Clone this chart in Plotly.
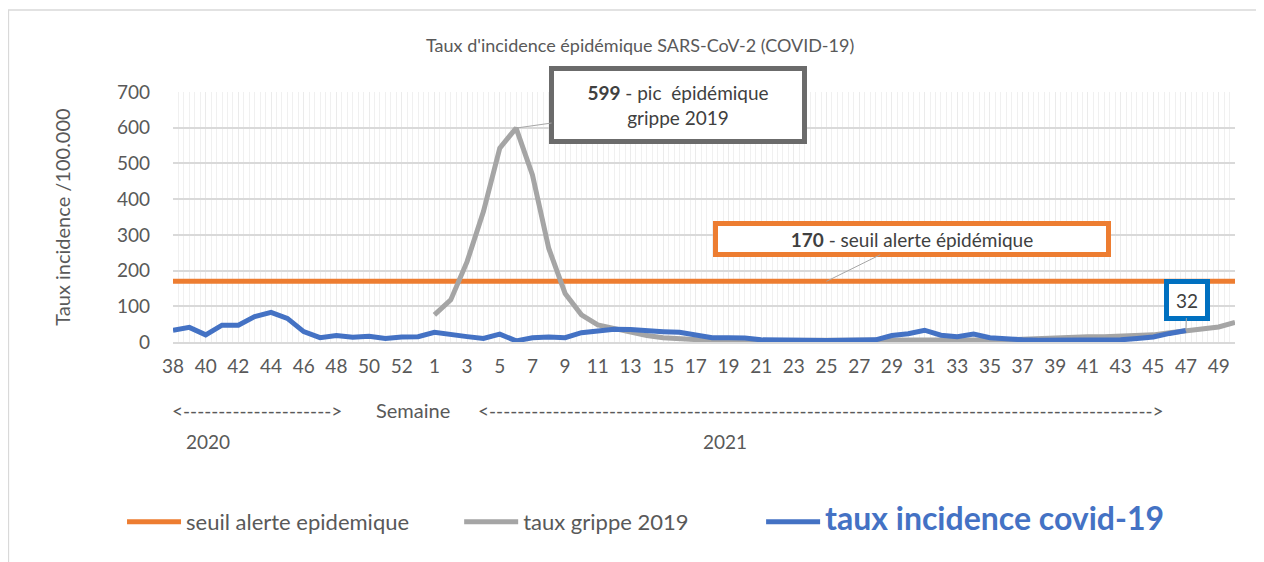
import plotly.graph_objects as go

# ---- data ----
weeks = [str(w) for w in range(38, 54)] + [str(w) for w in range(1, 51)]
seuil = [170] * len(weeks)
covid_2020 = [33, 41, 20, 47, 47, 71, 83, 66, 29, 12, 18, 13, 16, 10, 14, 15]
covid_2021 = [27, 20, 15, 10, 22, 3, 12, 14, 12, 26, 30, 36, 35, 31, 29, 27, 20, 12,
              12, 11, 6, 5, 4, 4, 4, 5, 6, 6, 18, 23, 33, 19, 15, 22, 12, 8, 6, 5,
              5, 4, 5, 5, 6, 10, 14, 24, 32]
grippe_2021 = [76, 118, 225, 365, 543, 599, 468, 262, 136, 76, 48, 38, 30, 18, 12, 9,
               6, 4, 4, 4, 3, 3, 3, 3, 3, 3, 3, 3, 4, 4, 4, 4, 4, 5, 5, 6, 8, 10, 13,
               15, 15, 15, 16, 17, 20, 26, 32, 37, 42, 55]

covid = covid_2020 + covid_2021 + [None] * (len(weeks) - len(covid_2020) - len(covid_2021))
grippe = [None] * len(covid_2020) + grippe_2021
idx = list(range(len(weeks)))
tickvals = idx[::2]
ticktext = [weeks[i] for i in tickvals]

FONT = "Lato"
TXT = "#595959"
NB = "&nbsp;"

fig = go.Figure()
fig.add_trace(go.Scatter(x=idx, y=seuil, mode="lines",
                         name="seuil alerte epidemique" + NB * 8,
                         line=dict(color="#ED7D31", width=5)))
fig.add_trace(go.Scatter(x=idx, y=grippe, mode="lines",
                         name="taux grippe 2019" + NB * 12,
                         line=dict(color="#A5A5A5", width=5)))
fig.add_trace(go.Scatter(x=idx, y=covid, mode="lines",
                         name='<span style="font-size:32px;color:#4472C4"><b>taux incidence covid-19</b></span>',
                         line=dict(color="#4472C4", width=5)))

peak_i = grippe.index(max(g for g in grippe if g is not None))
last_i = max(i for i, v in enumerate(covid) if v is not None)


def note(x, y, text, size=19):
    return dict(x=x, y=y, xref="paper", yref="paper", showarrow=False, text=text,
                xanchor="center", yanchor="middle",
                font=dict(family=FONT, size=size, color=TXT))


annotations = [
    dict(x=peak_i, y=grippe[peak_i], xref="x", yref="y",
         text="<b>599</b> - pic  épidémique<br>grippe 2019",
         showarrow=True, arrowhead=0, arrowwidth=1, arrowcolor="#A6A6A6",
         ax=162, ay=-23, standoff=0,
         font=dict(family=FONT, size=19, color="#404040"),
         bordercolor="#6B6B6B", borderwidth=5, borderpad=0,
         bgcolor="white", width=248, height=68, align="center"),
    dict(x=40, y=seuil[40], xref="x", yref="y",
         text="<b>170</b> - seuil alerte épidémique",
         showarrow=True, arrowhead=0, arrowwidth=1, arrowcolor="#A6A6A6",
         ax=85, ay=-42, standoff=0,
         font=dict(family=FONT, size=19, color="#404040"),
         bordercolor="#ED7D31", borderwidth=5, borderpad=0,
         bgcolor="white", width=388, height=26, align="center"),
    dict(x=last_i, y=covid[last_i], xref="x", yref="y",
         text=str(covid[last_i]),
         showarrow=True, arrowhead=0, arrowwidth=1, arrowcolor="#A6A6A6",
         ax=1, ay=-31, standoff=0,
         font=dict(family=FONT, size=19, color="#404040"),
         bordercolor="#0070C0", borderwidth=5, borderpad=0,
         bgcolor="white", width=36, height=32, align="center"),
    note(0.4397, 1.188, "Taux d'incidence épidémique SARS-CoV-2 (COVID-19)", 18),
    note(0.079, -0.272, "&lt;" + "-" * 21 + "&gt;"),
    note(0.226, -0.272, "Semaine", 20),
    note(0.610, -0.272, "&lt;" + "-" * 94 + "&gt;"),
    note(0.033, -0.396, "2020"),
    note(0.520, -0.396, "2021"),
]

fig.update_layout(
    width=1264, height=562,
    margin=dict(l=165, r=37, t=84, b=228),
    paper_bgcolor="white", plot_bgcolor="white",
    font=dict(family=FONT, color=TXT),
    showlegend=True,
    legend=dict(orientation="h", x=-0.048, y=-0.72, xanchor="left", yanchor="middle",
                font=dict(family=FONT, size=22, color=TXT),
                itemwidth=54, bgcolor="rgba(0,0,0,0)"),
    annotations=annotations,
    shapes=[dict(type="rect", xref="paper", yref="paper", x0=-0.155, x1=1.04,
                 y0=-0.95, y1=1.328, line=dict(color="#D9D9D9", width=1.5), layer="below")],
)
fig.update_xaxes(range=[0, len(weeks) - 1], tickmode="array", tickvals=tickvals,
                 ticktext=ticktext, tickfont=dict(family=FONT, size=19, color=TXT),
                 showgrid=True, gridcolor="#EBEBEB", gridwidth=1,
                 minor=dict(dtick=1 / 3, showgrid=True, gridcolor="#F0F0F0", gridwidth=1),
                 showline=True, linecolor="#D9D9D9", linewidth=1.5, zeroline=False,
                 ticks="", ticklabelstandoff=6)
fig.update_yaxes(range=[0, 700], dtick=100, tickfont=dict(family=FONT, size=19, color=TXT),
                 showgrid=True, gridcolor="#D9D9D9", gridwidth=1.5, zeroline=False,
                 title=dict(text="Taux incidence /100.000", font=dict(family=FONT, size=20, color=TXT),
                            standoff=40),
                 ticks="", ticklabelstandoff=22)

fig.write_html("out.html")
